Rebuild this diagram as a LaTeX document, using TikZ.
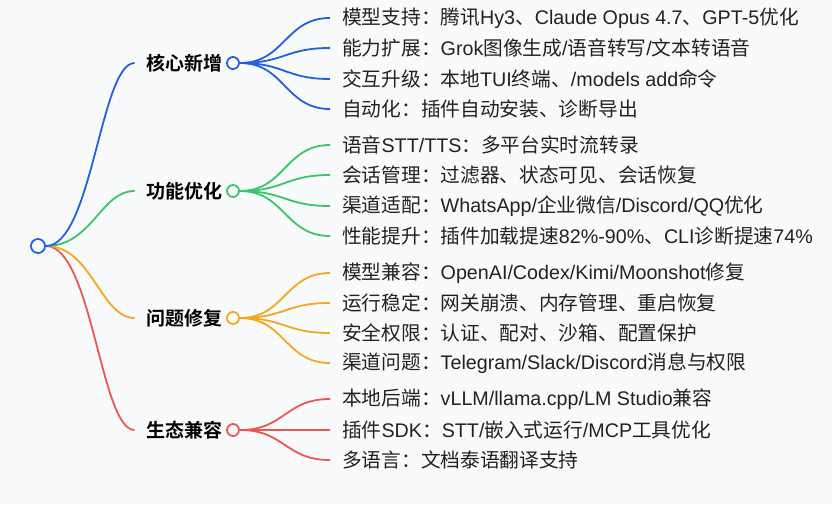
\documentclass[tikz,border=0pt]{standalone}
\usepackage{fontspec}
\setmainfont{Liberation Sans}
\newfontfamily\cjkfont{Noto Sans CJK SC}[BoldFont={Noto Sans CJK SC Bold}]
\newfontfamily\latinfont{Liberation Sans}
\XeTeXinterchartokenstate=1
\newXeTeXintercharclass\CJKcls
\newcount\cjkcc
\def\cjkrange#1#2{\cjkcc=#1\relax\loop\XeTeXcharclass\cjkcc=\CJKcls\advance\cjkcc by 1\relax\ifnum\cjkcc<#2\repeat}
\cjkrange{"3000}{"3040}
\cjkrange{"4E00}{"A000}
\cjkrange{"FF00}{"FFF0}
\XeTeXinterchartoks 0 \CJKcls = {\cjkfont}
\XeTeXinterchartoks 4095 \CJKcls = {\cjkfont}
\XeTeXinterchartoks \CJKcls 0 = {\latinfont}
\usetikzlibrary{calc,backgrounds}
\definecolor{cblue}{HTML}{235FE1}
\definecolor{cgreen}{HTML}{3DC46B}
\definecolor{corange}{HTML}{F5A623}
\definecolor{cred}{HTML}{EB5757}
\definecolor{bg}{HTML}{F9FAFC}
\definecolor{txt}{HTML}{222222}
\tikzset{
  leaf/.style={anchor=west,inner sep=0pt,text=txt,font=\fontsize{19.7}{23}\selectfont},
  branch/.style={anchor=east,inner sep=0pt,text=black,font=\fontsize{19}{23}\selectfont\bfseries},
  knob/.style={circle,draw=#1,fill=white,line width=1.8pt,minimum size=12pt,inner sep=0pt},
  conn/.style={draw=#1,line width=1.8pt},
}
\begin{document}
\begin{tikzpicture}[x=1pt,y=-1pt]
\begin{pgfonlayer}{background}
\fill[bg] (0,0) rectangle (832,504);
\end{pgfonlayer}
\useasboundingbox (0,0) rectangle (832,504);

% root
\node[knob=cblue,minimum size=14pt] (root) at (38,246) {};

% branches
\node[branch] (b1) at (223,63) {核心新增};
\node[branch] (b2) at (223,191) {功能优化};
\node[branch] (b3) at (223,318) {问题修复};
\node[branch] (b4) at (223,430) {生态兼容};
\node[knob=cblue] (k1) at (233,63) {};
\node[knob=cgreen] (k2) at (233,191) {};
\node[knob=corange] (k3) at (233,318) {};
\node[knob=cred] (k4) at (233,430) {};

% leaves
\node[leaf] (l11) at (342,18) {模型支持：腾讯Hy3、Claude Opus 4.7、GPT-5优化};
\node[leaf] (l12) at (342,48) {能力扩展：Grok图像生成/语音转写/文本转语音};
\node[leaf] (l13) at (342,79) {交互升级：本地TUI终端、/models add命令};
\node[leaf] (l14) at (342,109) {自动化：插件自动安装、诊断导出};

\node[leaf] (l21) at (342,145) {语音STT/TTS：多平台实时流转录};
\node[leaf] (l22) at (342,175) {会话管理：过滤器、状态可见、会话恢复};
\node[leaf] (l23) at (342,206) {渠道适配：WhatsApp/企业微信/Discord/QQ优化};
\node[leaf] (l24) at (342,236) {性能提升：插件加载提速82\%-90\%、CLI诊断提速74\%};

\node[leaf] (l31) at (342,273) {模型兼容：OpenAI/Codex/Kimi/Moonshot修复};
\node[leaf] (l32) at (342,303) {运行稳定：网关崩溃、内存管理、重启恢复};
\node[leaf] (l33) at (342,333) {安全权限：认证、配对、沙箱、配置保护};
\node[leaf] (l34) at (342,363) {渠道问题：Telegram/Slack/Discord消息与权限};

\node[leaf] (l41) at (342,399) {本地后端：vLLM/llama.cpp/LM Studio兼容};
\node[leaf] (l42) at (342,430) {插件SDK：STT/嵌入式运行/MCP工具优化};
\node[leaf] (l43) at (342,460) {多语言：文档泰语翻译支持};

\begin{pgfonlayer}{background}
% root to branches
\foreach \b/\c in {4/cred,3/corange,2/cgreen,1/cblue}{
  \draw[conn=\c] (root.east) .. controls ($(root.east)+(46,0)$) and ($(b\b.west)+(-46,0)$) .. ([xshift=-12pt]b\b.west);
}
% branches to leaves
\foreach \b/\c/\n in {1/cblue/4,2/cgreen/4,3/corange/4,4/cred/3}{
  \foreach \i in {1,...,\n}{
    \draw[conn=\c] (k\b.east) .. controls ($(k\b.east)+(45,0)$) and ($(l\b\i.west)+(-57,0)$) .. ([xshift=-12pt]l\b\i.west);
  }
}
\end{pgfonlayer}
\end{tikzpicture}
\end{document}
